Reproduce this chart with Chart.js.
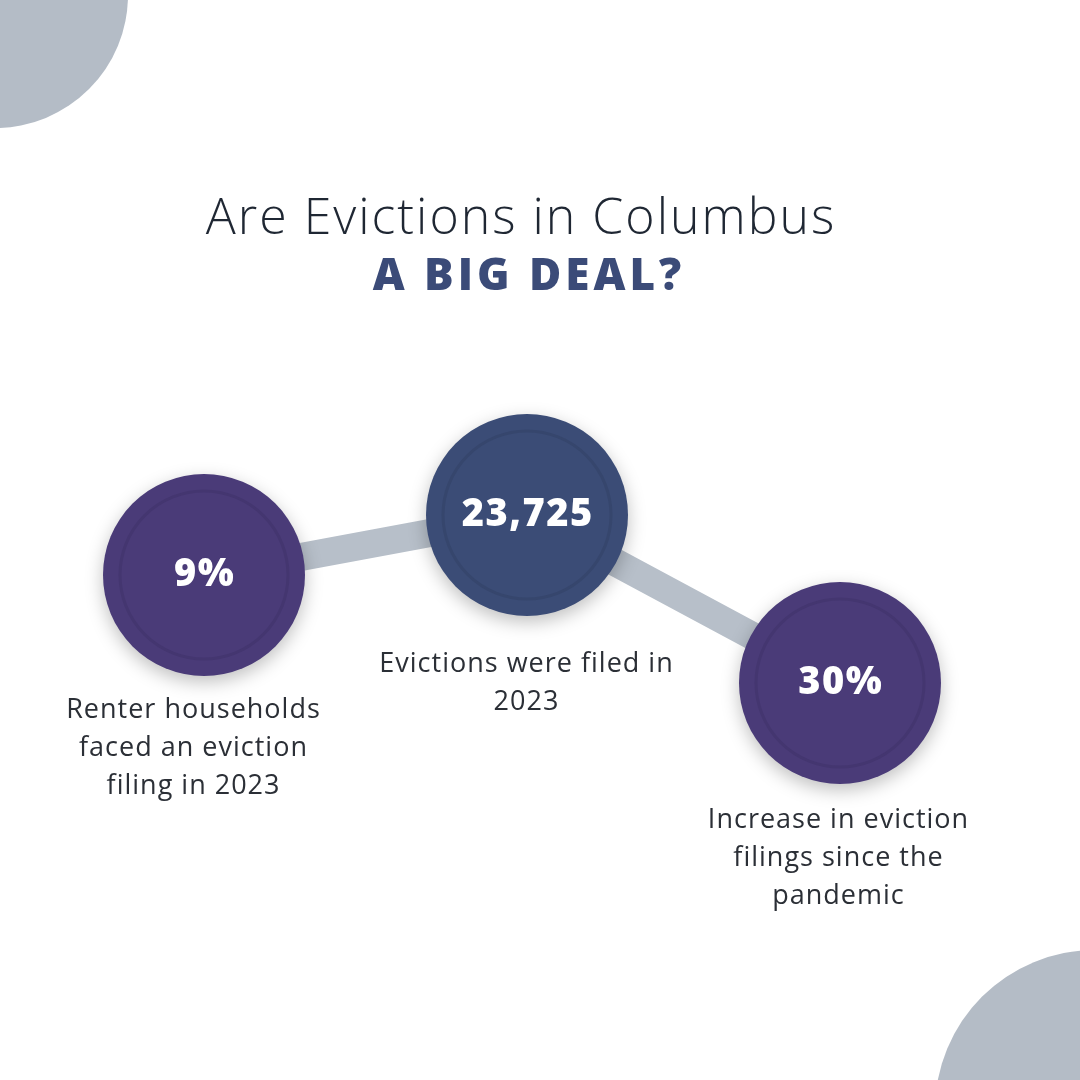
<!DOCTYPE html>
<html><head><meta charset="utf-8">
<script src="https://cdn.jsdelivr.net/npm/chart.js@4/dist/chart.umd.min.js"></script>
<style>html,body{margin:0;padding:0;background:#fff}canvas{display:block}</style>
</head><body>
<div style="width:1080px;height:1080px"><canvas id="c"></canvas></div>
<script>
const statLabels = ['9%', '23,725', '30%'];
const descriptions = [
  ['Renter households', 'faced an eviction', 'filing in 2023'],
  ['Evictions were filed in', '2023'],
  ['Increase in eviction', 'filings since the', 'pandemic']
];
// layout (pixel positions on the 1080 canvas)
const posX = [204, 527, 840];
const posY = [575, 515, 683];
const fills = ['#4a3b78', '#3b4c76', '#4a3b78'];
const rings = ['#443670', '#36466d', '#443670'];
const descY = [710, 664, 820];
const descX = [193, 526, 838];

function txt(ctx, s, x, y, ls) {
  ctx.letterSpacing = ls + 'px';
  ctx.fillText(s, x + ls / 2, y);
  ctx.letterSpacing = '0px';
}

const deco = {
  id: 'deco',
  beforeDraw(c) {
    const ctx = c.ctx;
    ctx.save();
    ctx.fillStyle = '#b4bcc6';
    ctx.beginPath(); ctx.arc(-5, -5, 133, 0, Math.PI * 2); ctx.fill();
    ctx.beginPath(); ctx.arc(1095, 1110, 160, 0, Math.PI * 2); ctx.fill();
    ctx.textAlign = 'center'; ctx.textBaseline = 'alphabetic';
    ctx.fillStyle = '#1f2733';
    ctx.font = '300 50px "Open Sans"';
    txt(ctx, 'Are Evictions in Columbus', 520, 234, 2);
    ctx.fillStyle = '#3b4b78';
    ctx.font = '800 44px "Open Sans"';
    txt(ctx, 'A BIG DEAL?', 527, 290, 4);
    ctx.restore();
  },
  afterDatasetsDraw(c) {
    const ctx = c.ctx;
    const meta = c.getDatasetMeta(0);
    ctx.save();
    meta.data.forEach((p, i) => {
      ctx.shadowColor = 'rgba(0,0,0,0.25)'; ctx.shadowBlur = 18; ctx.shadowOffsetY = 6;
      ctx.fillStyle = fills[i];
      ctx.beginPath(); ctx.arc(p.x, p.y, 101, 0, Math.PI * 2); ctx.fill();
      ctx.shadowColor = 'transparent';
      ctx.strokeStyle = rings[i]; ctx.lineWidth = 3;
      ctx.beginPath(); ctx.arc(p.x, p.y, 84, 0, Math.PI * 2); ctx.stroke();
      ctx.fillStyle = '#fff'; ctx.font = '800 38px "Open Sans"';
      ctx.textAlign = 'center'; ctx.textBaseline = 'middle';
      txt(ctx, statLabels[i], p.x, p.y, 1.5);
      ctx.fillStyle = '#2b2f36'; ctx.font = '400 27px "Open Sans"';
      descriptions[i].forEach((l, j) => txt(ctx, l, descX[i], descY[i] + j * 38, 1));
    });
    ctx.restore();
  }
};

new Chart(document.getElementById('c'), {
  type: 'line',
  data: { datasets: [{
    data: posX.map((x, i) => ({ x, y: posY[i] })),
    borderColor: '#b7bfc9', borderWidth: 28, pointRadius: 0, tension: 0
  }] },
  options: {
    responsive: true, maintainAspectRatio: false, animation: false,
    layout: { padding: 0 },
    plugins: { legend: { display: false }, tooltip: { enabled: false } },
    scales: {
      x: { type: 'linear', min: 0, max: 1080, display: false },
      y: { type: 'linear', min: 0, max: 1080, reverse: true, display: false }
    }
  },
  plugins: [deco]
});
</script>
</body></html>
